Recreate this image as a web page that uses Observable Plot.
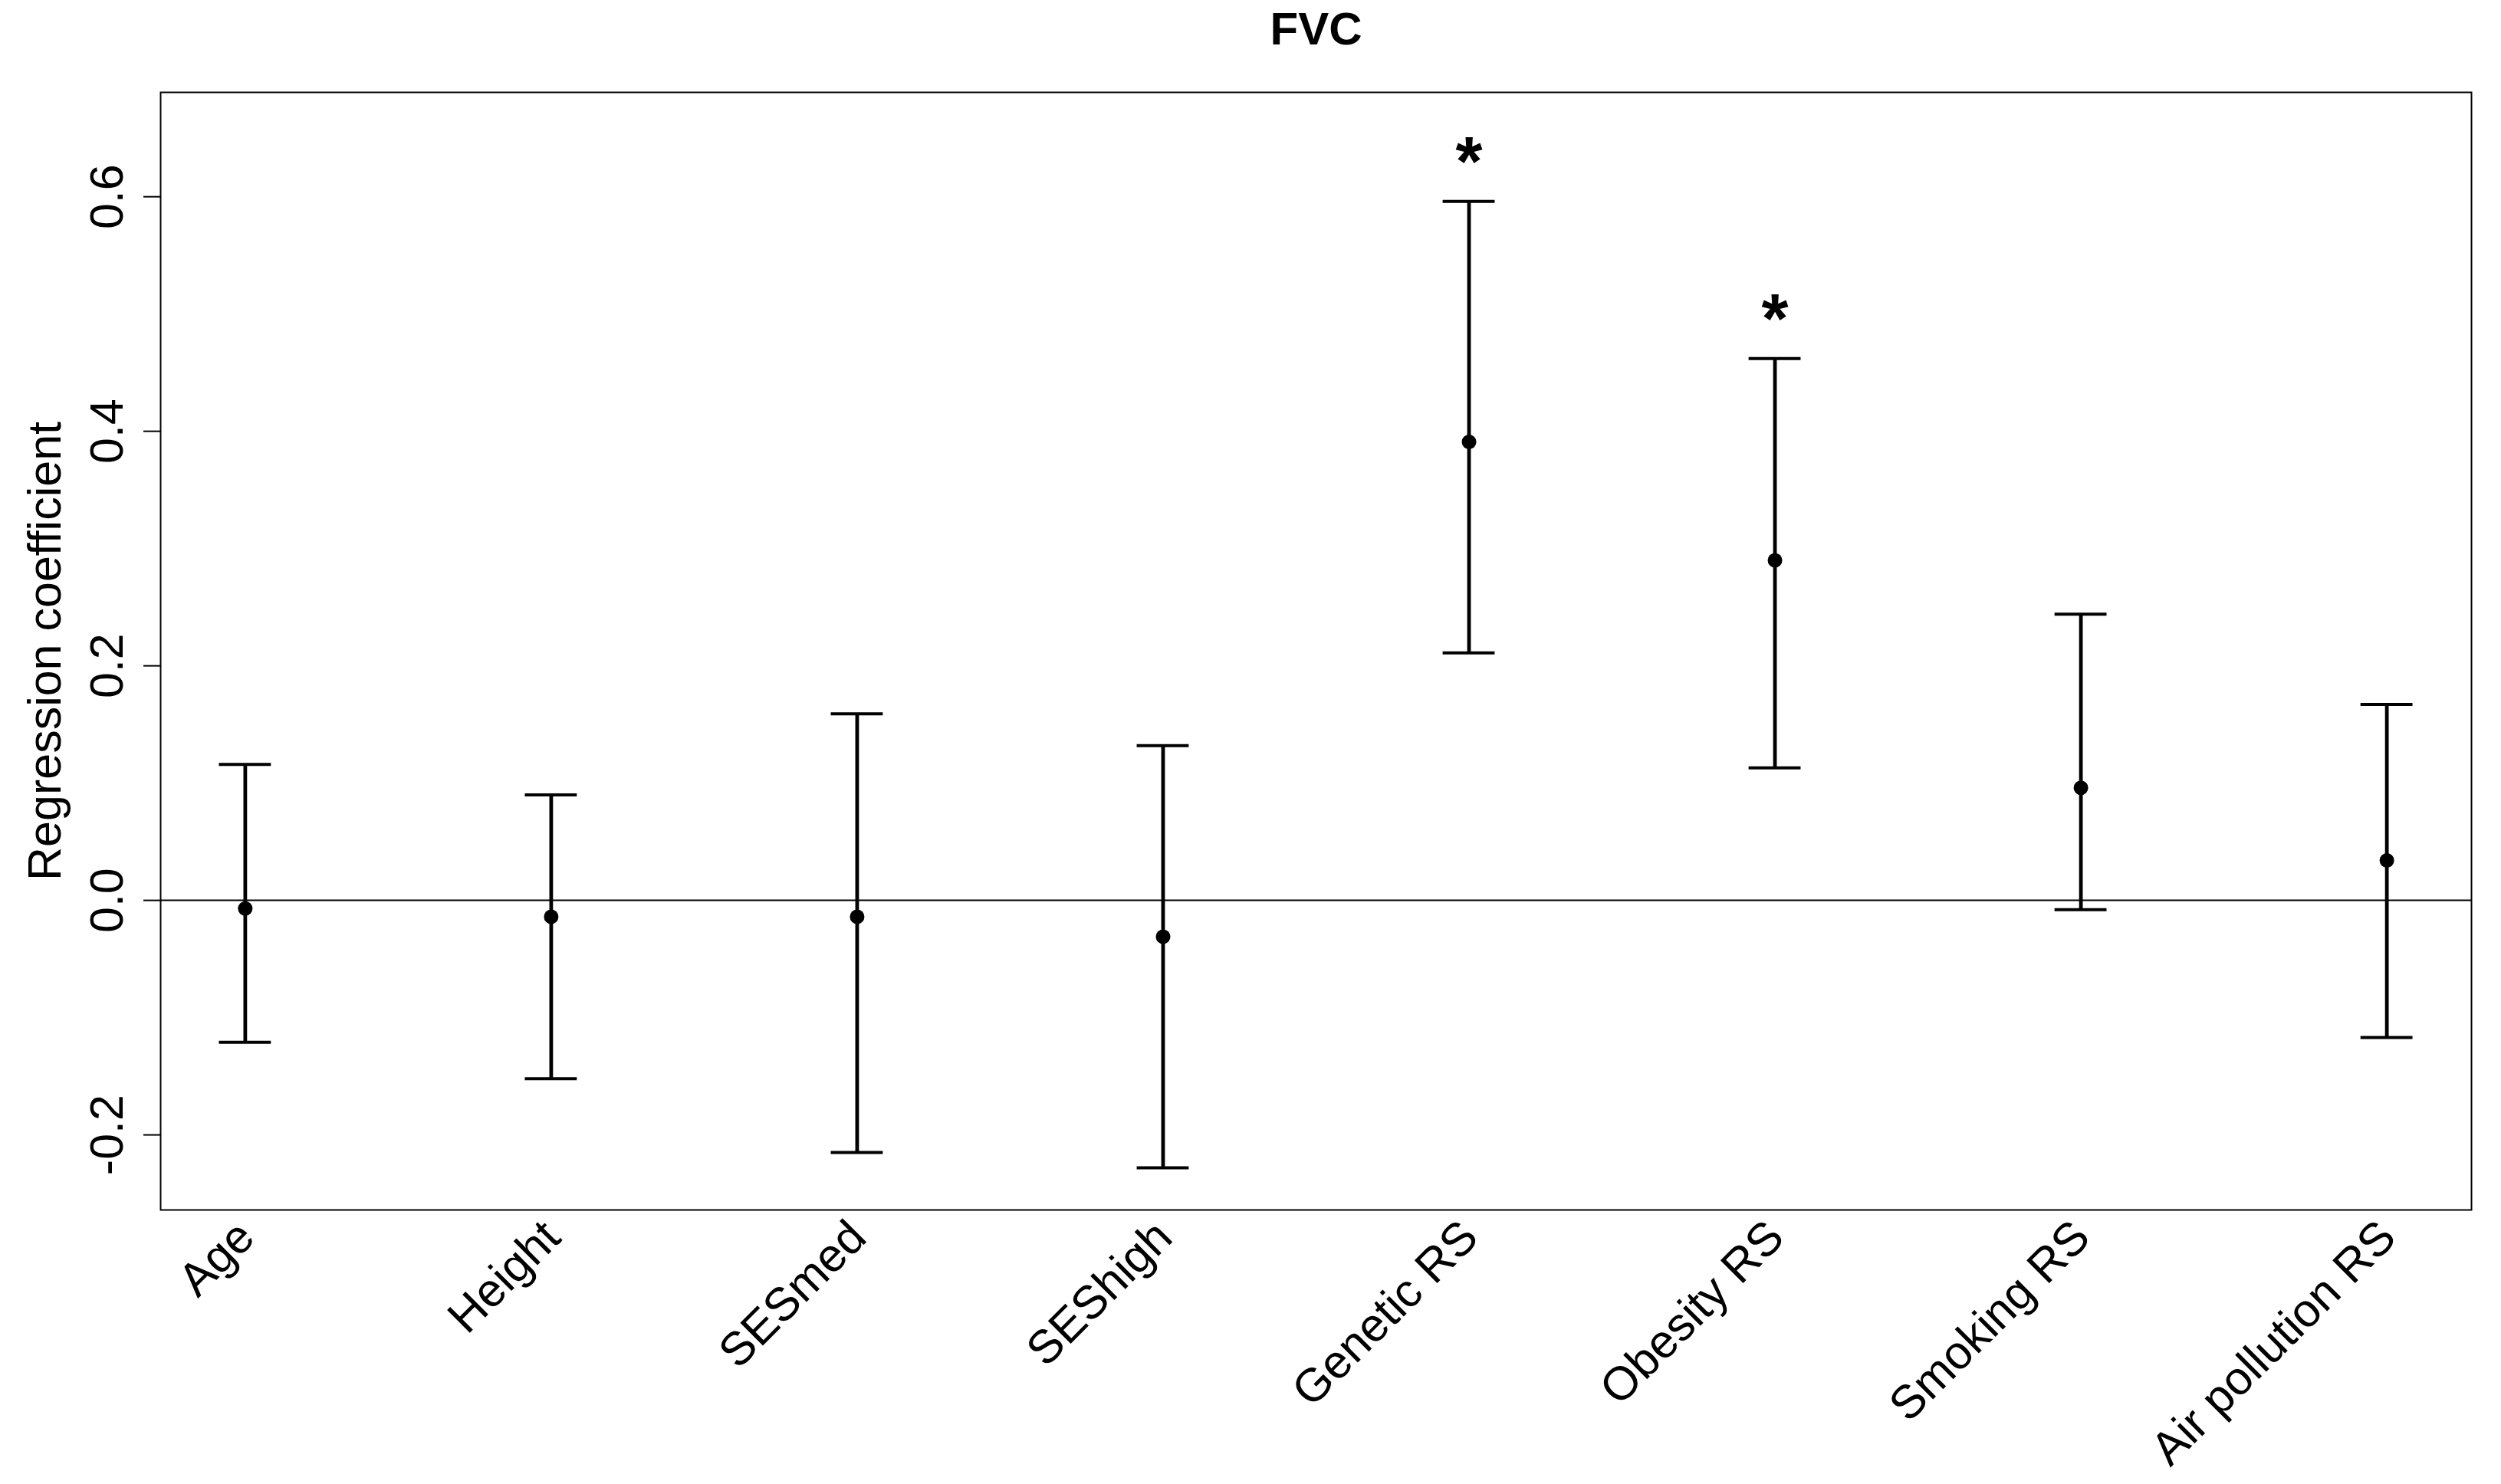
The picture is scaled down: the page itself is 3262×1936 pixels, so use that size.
<!DOCTYPE html>
<html>
<head>
<meta charset="utf-8">
<script src="https://cdn.jsdelivr.net/npm/d3@7"></script>
<script src="https://cdn.jsdelivr.net/npm/@observablehq/plot@0.6"></script>
<style>
  html, body { margin: 0; padding: 0; background: #fff; }
  svg { display: block; font-family: "Liberation Sans", Arial, sans-serif; }
</style>
</head>
<body>
<div id="chart"></div>
<script>
const categories = ["Age", "Height", "SESmed", "SEShigh", "Genetic RS", "Obesity RS", "Smoking RS", "Air pollution RS"];
const estimates  = [-0.007, -0.014, -0.014, -0.031, 0.391, 0.290, 0.096, 0.034];
const lowerCI    = [-0.121, -0.152, -0.215, -0.228, 0.211, 0.113, -0.008, -0.117];
const upperCI    = [0.116, 0.090, 0.159, 0.132, 0.596, 0.462, 0.244, 0.167];
const sigLabels  = ["", "", "", "", "*", "*", "", ""];
const yTicks      = [-0.2, 0.0, 0.2, 0.4, 0.6];
const yTickLabels = ["-0.2", "0.0", "0.2", "0.4", "0.6"];
const titleText = "FVC";
const yLabel = "Regression coefficient";

const data = categories.map((name, i) => ({
  name, est: estimates[i], lower: lowerCI[i], upper: upperCI[i], sig: sigLabels[i]
}));

const chart = Plot.plot({
  width: 3262,
  height: 1936,
  marginLeft: 209,
  marginRight: 39,
  marginTop: 120,
  marginBottom: 358,
  style: {fontFamily: '"Liberation Sans", Arial, sans-serif', background: "#fff", color: "#000"},
  x: {type: "band", domain: categories, paddingInner: 0.83, paddingOuter: 0.1916, round: false, axis: null},
  y: {domain: [-0.264, 0.689], axis: null},
  marks: [
    Plot.frame({stroke: "#000", strokeWidth: 2}),
    Plot.ruleY([0], {stroke: "#000", strokeWidth: 2}),
    Plot.axisY({
      ticks: yTicks, tickSize: 22, tickPadding: 28, tickRotate: -90,
      tickFormat: d => yTickLabels[yTicks.indexOf(d)],
      fontSize: 61, strokeWidth: 2, label: null, stroke: "#000", fill: "#000"
    }),
    Plot.ruleX(data, {x: "name", y1: "lower", y2: "upper", stroke: "#000", strokeWidth: 4.8}),
    Plot.tickY(data, {x: "name", y: "upper", stroke: "#000", strokeWidth: 4}),
    Plot.tickY(data, {x: "name", y: "lower", stroke: "#000", strokeWidth: 4}),
    Plot.dot(data, {x: "name", y: "est", r: 9.5, fill: "#000", stroke: null}),
    Plot.text(data.filter(d => d.sig), {x: "name", y: "upper", text: "sig", fontSize: 90, fontWeight: "bold", lineAnchor: "middle", dy: -50, fill: "#000"}),
    Plot.text(data, {x: "name", text: "name", frameAnchor: "bottom", rotate: -45, textAnchor: "end", lineAnchor: "bottom", dx: 15, dy: 39, fontSize: 61, fill: "#000"}),
    Plot.text([yLabel], {text: d => d, frameAnchor: "left", rotate: -90, lineAnchor: "bottom", textAnchor: "middle", dx: -131, fontSize: 61, fill: "#000"}),
    Plot.text([titleText], {text: d => d, frameAnchor: "top", lineAnchor: "bottom", textAnchor: "middle", dy: -63, fontSize: 60, fontWeight: "bold", fill: "#000"})
  ]
});
document.getElementById("chart").appendChild(chart);
</script>
</body>
</html>
